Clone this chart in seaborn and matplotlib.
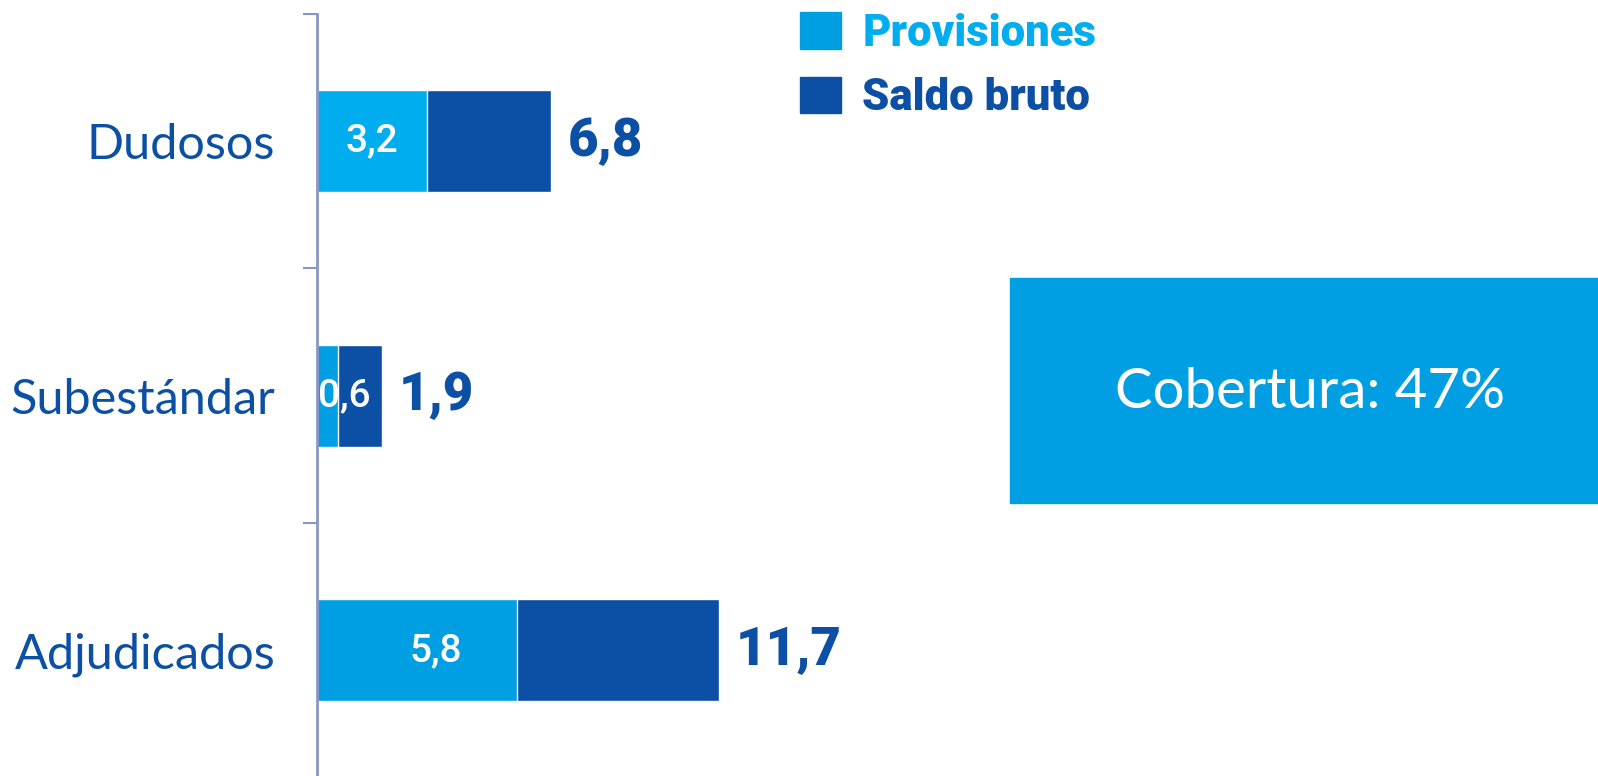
import pandas as pd
import matplotlib.pyplot as plt
from matplotlib.patches import Patch, Rectangle
import seaborn as sns

# Data (miles de millones)
categories = ['Dudosos', 'Subestándar', 'Adjudicados']
provisiones = [3.2, 0.6, 5.8]
saldo_bruto = [6.8, 1.9, 11.7]
cobertura = 47

# where the white inner labels sit (data units)
inner_label_x = [1.6, 0.8, 3.45]

dark = '#0B50A4'
light = '#009FE3'
light_text = '#00AEEF'
axis_col = '#8C96C3'

df = pd.DataFrame({'categoria': categories,
                   'provisiones': provisiones,
                   'saldo_bruto': saldo_bruto})

def fmt(v):
    return f"{v:.1f}".replace('.', ',')

sns.set_style('white')
plt.rcParams['font.family'] = ['Lato', 'DejaVu Sans']
heavy = ['Roboto', 'DejaVu Sans']

fig = plt.figure(figsize=(15.98, 7.76), dpi=100)
ax = fig.add_axes([317 / 1598, -0.002, 1 - 317 / 1598, 0.984])
ax.patch.set_alpha(0)

# total bar first, provisions drawn over it
sns.barplot(data=df, x='saldo_bruto', y='categoria', color=dark,
            saturation=1, width=0.4, ax=ax)
sns.barplot(data=df, x='provisiones', y='categoria', color=light,
            saturation=1, width=0.4, ax=ax)
ax.containers[1][0].set_facecolor(light_text)

ax.bar_label(ax.containers[0], labels=[fmt(v) for v in saldo_bruto],
             padding=12, fontsize=38, fontweight='black', color=dark,
             family=heavy)
for i, v in enumerate(provisiones):
    ax.text(inner_label_x[i], i, fmt(v), ha='center', va='center',
            color='white', fontsize=28, fontweight='medium', family=heavy)

ax.set_xlim(0, (1598 - 317) / 34.4)
ax.set_ylim(2.5, -0.5)
ax.set_xlabel('')
ax.set_ylabel('')
ax.set_xticks([])
for s in ['top', 'right', 'bottom']:
    ax.spines[s].set_visible(False)
ax.spines['left'].set_color(axis_col)
ax.spines['left'].set_linewidth(2)
ax.set_yticks([-0.5, 0.5, 1.5, 2.5], minor=True)
ax.tick_params(axis='y', which='minor', length=10, width=1.5, color=axis_col, left=True)
ax.tick_params(axis='y', which='major', length=0, pad=30, labelsize=35, labelcolor=dark)

# legend
handles = [Patch(color=light, label='Provisiones'),
           Patch(color=dark, label='Saldo bruto')]
leg = fig.legend(handles=handles, loc='upper left',
                 bbox_to_anchor=(761 / 1598, 1.035), frameon=False,
                 prop={'family': heavy, 'size': 31.5, 'weight': 'black'},
                 handlelength=0.92, handleheight=0.92,
                 handletextpad=0.5, labelspacing=0.5)
for t, c in zip(leg.get_texts(), [light_text, dark]):
    t.set_color(c)

# cobertura box
fig.add_artist(Rectangle((1010 / 1598, 1 - 503 / 776), (1598 - 1010) / 1598,
                         (503 - 278) / 776, transform=fig.transFigure,
                         color=light, zorder=2))
fig.text(1310 / 1598, 1 - 392 / 776, f'Cobertura: {cobertura}%',
         ha='center', va='center', color='white', fontsize=40.5, zorder=4)

fig.savefig('out.png', dpi=100)
